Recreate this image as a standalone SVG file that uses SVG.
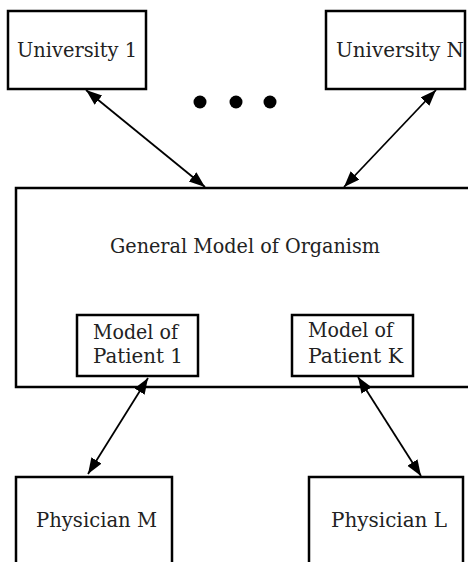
<svg xmlns="http://www.w3.org/2000/svg" width="468" height="562" viewBox="0 0 468 562">
<style>
.box{fill:#fff;stroke:#000;stroke-width:2.5}
.sub{fill:#fff;stroke:#000;stroke-width:2.5}
.t{font-family:"DejaVu Serif","Liberation Serif",serif;font-size:20px;fill:#222}
.c{stroke:#000;stroke-width:1.8;fill:none;marker-start:url(#ah);marker-end:url(#ah)}
</style>
<defs>
<marker id="ah" markerUnits="userSpaceOnUse" markerWidth="18" markerHeight="14" refX="16" refY="6" orient="auto-start-reverse">
<path d="M0,0 L16,6 L0,12 z" fill="#000"/>
</marker>
</defs>
<rect width="468" height="562" fill="#fff"/>
<g id="university1">
<rect class="box" x="8" y="11" width="138" height="78"/>
<text class="t" x="17" y="57" textLength="120" lengthAdjust="spacingAndGlyphs">University 1</text>
</g>
<g id="universityN">
<rect class="box" x="326" y="11" width="139" height="78"/>
<text class="t" x="336" y="57" textLength="128" lengthAdjust="spacingAndGlyphs">University N</text>
</g>
<g id="ellipsis">
<circle cx="200" cy="102" r="6.5" fill="#000"/>
<circle cx="236" cy="102" r="6.5" fill="#000"/>
<circle cx="270" cy="102" r="6.5" fill="#000"/>
</g>
<g id="general">
<rect class="box" x="16" y="188" width="470" height="199"/>
<text class="t" x="110" y="253" textLength="270" lengthAdjust="spacingAndGlyphs">General Model of Organism</text>
</g>
<g id="patient1">
<rect class="sub" x="77" y="315" width="121" height="61"/>
<text class="t" x="93" y="339" textLength="85" lengthAdjust="spacingAndGlyphs">Model of</text>
<text class="t" x="93" y="363" textLength="90" lengthAdjust="spacingAndGlyphs">Patient 1</text>
</g>
<g id="patientK">
<rect class="sub" x="292" y="315" width="121" height="61"/>
<text class="t" x="308" y="337" textLength="85" lengthAdjust="spacingAndGlyphs">Model of</text>
<text class="t" x="308" y="363" textLength="95" lengthAdjust="spacingAndGlyphs">Patient K</text>
</g>
<g id="physicianM">
<rect class="box" x="16" y="477" width="156" height="100"/>
<text class="t" x="36" y="527" textLength="121" lengthAdjust="spacingAndGlyphs">Physician M</text>
</g>
<g id="physicianL">
<rect class="box" x="309" y="477" width="154" height="100"/>
<text class="t" x="331" y="527" textLength="116" lengthAdjust="spacingAndGlyphs">Physician L</text>
</g>
<g id="connectors">
<line class="c" x1="86" y1="90" x2="205" y2="187"/>
<line class="c" x1="436" y1="90" x2="344" y2="187"/>
<line class="c" x1="148" y1="378" x2="88" y2="474"/>
<line class="c" x1="358" y1="377" x2="421" y2="476"/>
</g>
</svg>
